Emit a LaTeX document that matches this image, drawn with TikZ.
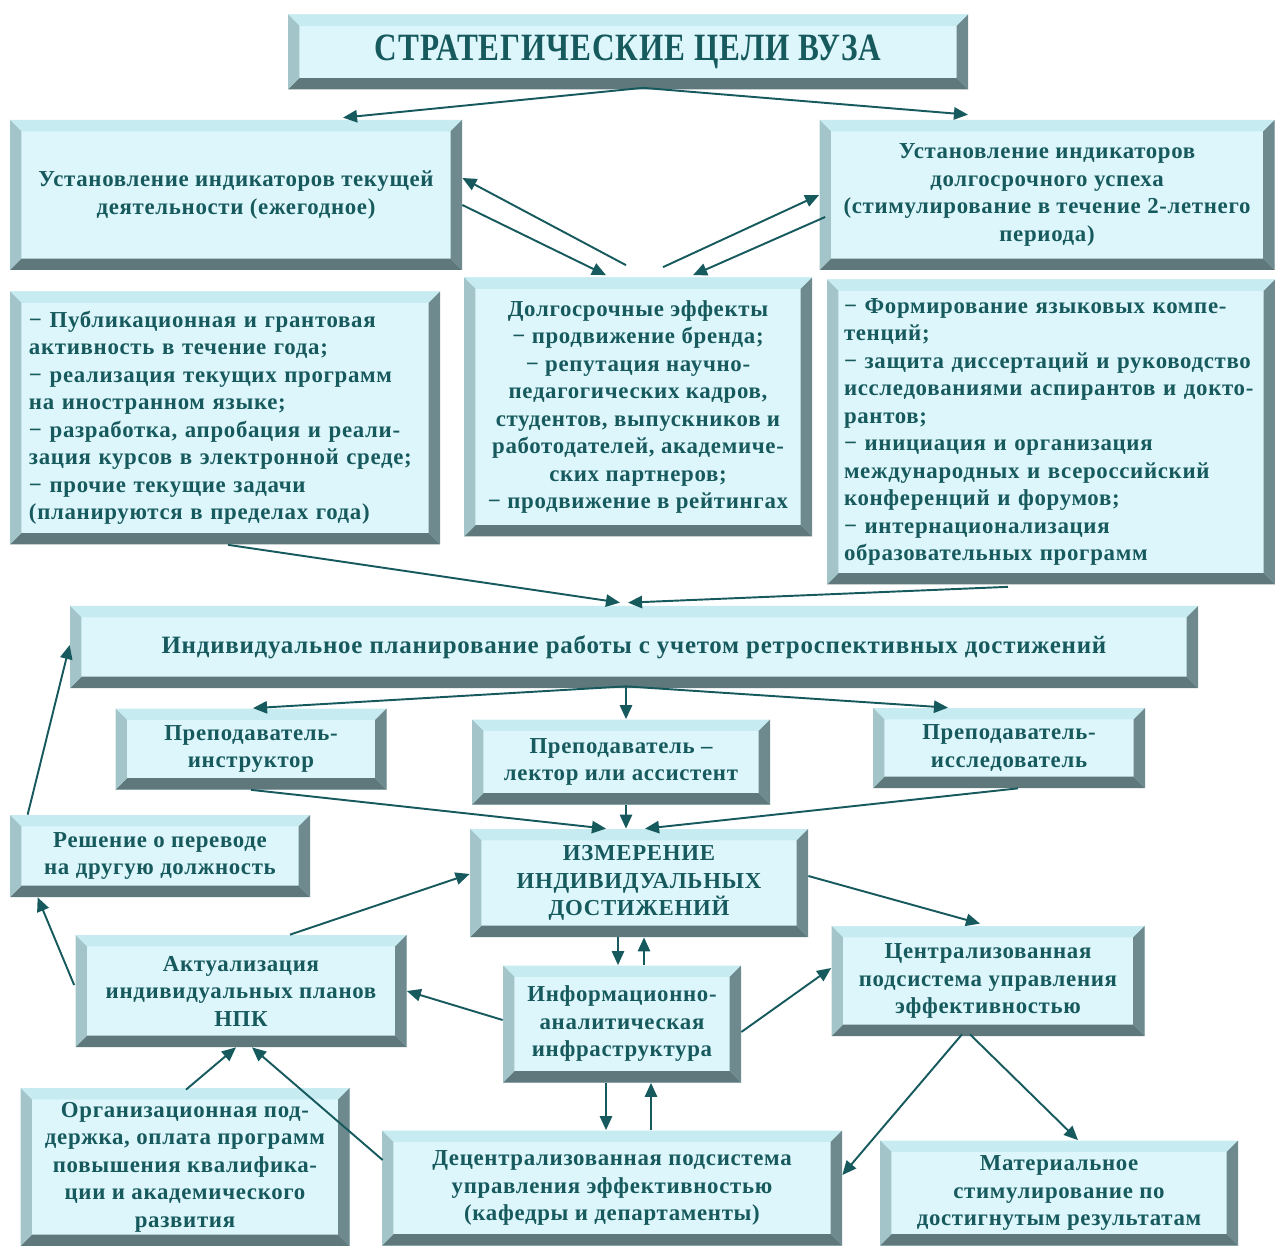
\documentclass[tikz,border=0pt]{standalone}
\usepackage{fontspec}
\setmainfont{Liberation Serif}[LetterSpace=3]
\usetikzlibrary{arrows.meta,calc}
\definecolor{ink}{HTML}{175A5E}
\definecolor{boxfill}{HTML}{DDF6FB}
\definecolor{bevtop}{HTML}{C6EBF1}
\definecolor{bevleft}{HTML}{A3C5CA}
\definecolor{bevright}{HTML}{6E8A8E}
\definecolor{bevbot}{HTML}{5F787B}
\newcommand{\bev}{6.5pt}
\tikzset{
	bevfill/.style={fill=boxfill, text=ink, inner sep=0pt,
		path picture={
			\path (path picture bounding box.south west) coordinate (bsw)
			(path picture bounding box.north east) coordinate (bne)
			(bsw|-bne) coordinate (bnw) (bne|-bsw) coordinate (bse);
			\fill[bevtop] (bnw) -- (bne) -- ($(bne)+(-\bev,-\bev)$) -- ($(bnw)+(\bev,-\bev)$) -- cycle;
			\fill[bevbot] (bsw) -- (bse) -- ($(bse)+(-\bev,\bev)$) -- ($(bsw)+(\bev,\bev)$) -- cycle;
			\fill[bevleft] (bsw) -- (bnw) -- ($(bnw)+(\bev,-\bev)$) -- ($(bsw)+(\bev,\bev)$) -- cycle;
			\fill[bevright] (bse) -- (bne) -- ($(bne)+(-\bev,-\bev)$) -- ($(bse)+(-\bev,\bev)$) -- cycle;
	}},
	bevbox/.style 2 args={bevfill, align=center, minimum width=#1*0.02cm, minimum height=#2*0.02cm},
	arr/.style={draw=ink, line width=1.1pt, -{Triangle[length=8pt,width=7pt]}},
}
\begin{document}
\begin{tikzpicture}[x=0.02cm,y=-0.02cm,font=\bfseries\fontsize{13}{15.65}\selectfont,line join=round]
	\useasboundingbox (0,0) rectangle (1275,1246);
	% boxes
	\node[bevbox={680}{75}] (goal) at (628,52) {\raisebox{-2pt}{\scalebox{0.89}[1.1]{\fontsize{20}{24}\selectfont СТРАТЕГИЧЕСКИЕ ЦЕЛИ ВУЗА}}};
	\node[bevbox={452}{150}] (cur) at (236,195) {Установление индикаторов текущей\\деятельности (ежегодное)};
	\node[bevbox={455}{150}] (long) at (1047,195) {Установление индикаторов\\долгосрочного успеха\\(стимулирование в течение 2-летнего\\периода)};
	\node[bevbox={430}{253}, text width=392*0.02cm, align=left] (curlist) at (225,418) {− Публикационная и грантовая\\активность в течение года;\\− реализация текущих программ\\на иностранном языке;\\− разработка, апробация и реали-\\зация курсов в электронной среде;\\− прочие текущие задачи\\(планируются в пределах года)};
	\node[bevbox={348}{259}] (eff) at (638,407) {Долгосрочные эффекты\\− продвижение бренда;\\− репутация научно-\\педагогических кадров,\\студентов, выпускников и\\работодателей, академиче-\\ских партнеров;\\− продвижение в рейтингах};
	\node[bevbox={448}{305}, text width=414*0.02cm, align=left] (longlist) at (1051,432) {− Формирование языковых компе-\\тенций;\\− защита диссертаций и руководство\\исследованиями аспирантов и докто-\\рантов;\\− инициация и организация\\международных и всероссийский\\конференций и форумов;\\− интернационализация\\образовательных программ};
	\node[bevbox={1128}{82}, font=\bfseries\fontsize{14.2}{17}\selectfont] (plan) at (634,647) {Индивидуальное планирование работы с учетом ретроспективных достижений};
	\node[bevbox={271}{81}] (instr) at (251,749) {Преподаватель-\\инструктор};
	\node[bevbox={298}{85}] (lect) at (621,762) {Преподаватель –\\лектор или ассистент};
	\node[bevbox={272}{80}] (res) at (1009,748) {Преподаватель-\\исследователь};
	\node[bevbox={338}{108}] (meas) at (639,883) {ИЗМЕРЕНИЕ\\ИНДИВИДУАЛЬНЫХ\\ДОСТИЖЕНИЙ};
	\node[bevbox={300}{82}] (trans) at (160,856) {Решение о переводе\\на другую должность};
	\node[bevbox={331}{112}] (upd) at (241,991) {Актуализация\\индивидуальных планов\\НПК};
	\node[bevbox={238}{117}] (info) at (622,1024) {Информационно-\\аналитическая\\инфраструктура};
	\node[bevbox={313}{110}] (central) at (988,981) {Централизованная\\подсистема управления\\эффективностью};
	\node[bevbox={329}{158}] (org) at (185,1167) {Организационная под-\\держка, оплата программ\\повышения квалифика-\\ции и академического\\развития};
	\node[bevbox={460}{115}] (decent) at (612,1188) {Децентрализованная подсистема\\управления эффективностью\\(кафедры и департаменты)};
	\node[bevbox={358}{105}] (mat) at (1059,1193) {Материальное\\стимулирование по\\достигнутым результатам};
	% connectors
	\coordinate (gs) at ($(goal.south)+(15,-2)$);
	\draw[arr] (gs) -- ($(cur.north)+(107,-2)$);
	\draw[arr] (gs) -- ($(long.north)+(-79,-5)$);
	\draw[arr] ($(cur.east)+(0,10)$) -- ($(eff.north)+(-32,-2)$);
	\draw[arr] ($(eff.north)+(-12,-12)$) -- ($(cur.east)+(0,-17)$);
	\draw[arr] ($(eff.north)+(25,-10)$) -- ($(long.west)+(0,0)$);
	\draw[arr] ($(long.west)+(6,22)$) -- ($(eff.north)+(55,-2)$);
	\draw[arr] ($(curlist.south)+(3,0)$) -- ($(plan.north)+(-14,-3)$);
	\draw[arr] ($(longlist.south)+(-43,2)$) -- ($(plan.north)+(-6,-3)$);
	\coordinate (ps) at ($(plan.south)+(-8,-2)$);
	\draw[arr] (ps) -- ($(instr.north)+(2,0)$);
	\draw[arr] (ps) -- (ps|-lect.north);
	\draw[arr] (ps) -- ($(res.north)+(-61,0)$);
	\draw[arr] (instr.south) -- ($(meas.north)+(-33,0)$);
	\draw[arr] ($(lect.south)+(5,0)$) -- ($(meas.north)+(-13,0)$);
	\draw[arr] ($(res.south)+(9,0)$) -- ($(meas.north)+(6,0)$);
	\draw[arr] ($(trans.north west)+(18,0)$) -- ($(plan.west)+(0,-2)$);
	\draw[arr] ($(upd.west)+(-1,-6)$) -- ($(trans.south west)+(28,0)$);
	\draw[arr] ($(upd.north)+(49,0)$) -- ($(meas.west)+(0,-9)$);
	\draw[arr] ($(meas.east)+(0,-7)$) -- ($(central.north)+(-8,-2)$);
	\draw[arr] ($(meas.south)+(-21,0)$) -- ($(info.north)+(-4,0)$);
	\draw[arr] ($(info.north)+(22,0)$) -- ($(meas.south)+(5,0)$);
	\draw[arr] ($(info.west)+(0,-4)$) -- (upd.east);
	\draw[arr] ($(info.east)+(0,8)$) -- ($(central.west)+(0,-13)$);
	\draw[arr] ($(info.south)+(-16,0)$) -- ($(decent.north)+(-6,0)$);
	\draw[arr] ($(decent.north)+(39,0)$) -- ($(info.south)+(29,0)$);
	\draw[arr] ($(central.south)+(-26,-2)$) -- ($(decent.east)+(0,-13)$);
	\draw[arr] ($(central.south)+(-18,-2)$) -- ($(mat.north)+(19,0)$);
	\draw[arr] ($(org.north)+(1,2)$) -- ($(upd.south)+(-5,0)$);
	\draw[arr] ($(decent.west)+(1,-28)$) -- ($(upd.south)+(11,0)$);
\end{tikzpicture}
\end{document}
